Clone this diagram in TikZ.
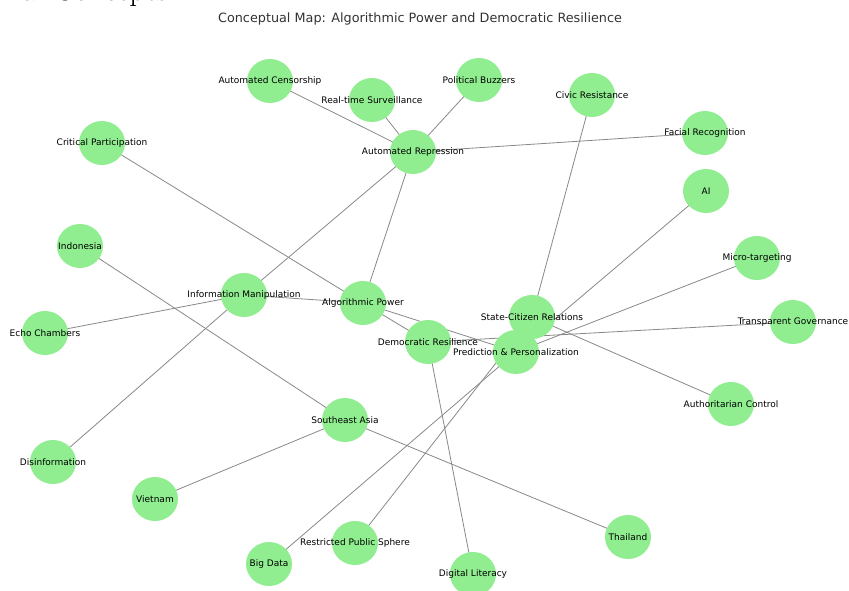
\documentclass[tikz,border=0pt]{standalone}
\usepackage{fontspec}
\setmainfont{DejaVu Sans}
\newfontfamily\serifcut{Latin Modern Roman}
\usetikzlibrary{shapes.geometric}
\pgfdeclarelayer{background}
\pgfsetlayers{background,main}
\definecolor{nodegreen}{RGB}{144,238,144}
\definecolor{edgegray}{RGB}{136,136,136}
\definecolor{titlegray}{RGB}{51,51,51}
\tikzset{
  concept/.style={ellipse, fill=nodegreen, minimum width=46pt, minimum height=44pt, inner sep=0pt},
  clabel/.style={font=\fontsize{9}{10}\selectfont, text=black, inner sep=0pt, anchor=center},
  link/.style={draw=edgegray, line width=0.8pt},
}
\begin{document}
\begin{tikzpicture}[x=1pt,y=-1pt]
\useasboundingbox (0,0) rectangle (849,590);
\clip (0,0) rectangle (849,590);
% cut-off heading at the very top
\node[anchor=base west, inner sep=0pt, font=\serifcut\fontsize{31}{33}\selectfont] (heading) at (22,0.5) {al Concepts:};
% title
\node[font=\fontsize{12.8}{15}\selectfont, text=titlegray] (title) at (420,19) {Conceptual Map: Algorithmic Power and Democratic Resilience};
% nodes
\node[concept] (cens) at (270,81) {};
\node[concept] (surv) at (372,100) {};
\node[concept] (buzz) at (479,80) {};
\node[concept] (civic) at (592,95) {};
\node[concept] (repr) at (413,152) {};
\node[concept] (crit) at (102,143) {};
\node[concept] (facial) at (705,133) {};
\node[concept] (ai) at (706,191) {};
\node[concept] (indo) at (80,246) {};
\node[concept] (micro) at (757,258) {};
\node[concept] (info) at (244,295) {};
\node[concept] (algo) at (363,303) {};
\node[concept] (echo) at (45,333) {};
\node[concept] (scr) at (532,317) {};
\node[concept] (transp) at (793,322) {};
\node[concept] (demo) at (428,342) {};
\node[concept] (pred) at (516,352) {};
\node[concept] (auth) at (731,404) {};
\node[concept] (sea) at (345,420) {};
\node[concept] (disinf) at (53,462) {};
\node[concept] (viet) at (155,499) {};
\node[concept] (thai) at (628,537) {};
\node[concept] (rps) at (355,543) {};
\node[concept] (bigdata) at (269,564) {};
\node[concept] (diglit) at (473,574) {};
% labels
\node[clabel] (cens-l) at (cens) {Automated Censorship};
\node[clabel] (surv-l) at (surv) {Real-time Surveillance};
\node[clabel] (buzz-l) at (buzz) {Political Buzzers};
\node[clabel] (civic-l) at (civic) {Civic Resistance};
\node[clabel] (repr-l) at (repr) {Automated Repression};
\node[clabel] (crit-l) at (crit) {Critical Participation};
\node[clabel] (facial-l) at (facial) {Facial Recognition};
\node[clabel] (ai-l) at (ai) {AI};
\node[clabel] (indo-l) at (indo) {Indonesia};
\node[clabel] (micro-l) at (micro) {Micro-targeting};
\node[clabel] (info-l) at (info) {Information Manipulation};
\node[clabel] (algo-l) at (algo) {Algorithmic Power};
\node[clabel] (echo-l) at (echo) {Echo Chambers};
\node[clabel] (scr-l) at (scr) {State-Citizen Relations};
\node[clabel] (transp-l) at (transp) {Transparent Governance};
\node[clabel] (demo-l) at (demo) {Democratic Resilience};
\node[clabel] (pred-l) at (pred) {Prediction \& Personalization};
\node[clabel] (auth-l) at (auth) {Authoritarian Control};
\node[clabel] (sea-l) at (sea) {Southeast Asia};
\node[clabel] (disinf-l) at (disinf) {Disinformation};
\node[clabel] (viet-l) at (viet) {Vietnam};
\node[clabel] (thai-l) at (thai) {Thailand};
\node[clabel] (rps-l) at (rps) {Restricted Public Sphere};
\node[clabel] (bigdata-l) at (bigdata) {Big Data};
\node[clabel] (diglit-l) at (diglit) {Digital Literacy};
% edges
\begin{pgfonlayer}{background}
\draw[link] (cens.center) -- (repr.center);
\draw[link] (surv.center) -- (repr.center);
\draw[link] (buzz.center) -- (repr.center);
\draw[link] (facial.center) -- (repr.center);
\draw[link] (repr.center) -- (algo.center);
\draw[link] (repr.center) -- (info.center);
\draw[link] (civic.center) -- (scr.center);
\draw[link] (crit.center) -- (algo.center);
\draw[link] (info.center) -- (echo.center);
\draw[link] (info.center) -- (disinf.center);
\draw[link] (info.center) -- (algo.center);
\draw[link] (indo.center) -- (sea.center);
\draw[link] (sea.center) -- (viet.center);
\draw[link] (sea.center) -- (thai.center);
\draw[link] (ai.center) -- (pred.center);
\draw[link] (micro.center) -- (pred.center);
\draw[link] (transp.center) -- (demo.center);
\draw[link] (demo.center) -- (diglit.center);
\draw[link] (pred.center) -- (bigdata.center);
\draw[link] (scr.center) -- (rps.center);
\draw[link] (scr.center) -- (auth.center);
\draw[link] (algo.center) -- (demo.center);
\draw[link] (algo.center) -- (pred.center);
\end{pgfonlayer}
\end{tikzpicture}
\end{document}
